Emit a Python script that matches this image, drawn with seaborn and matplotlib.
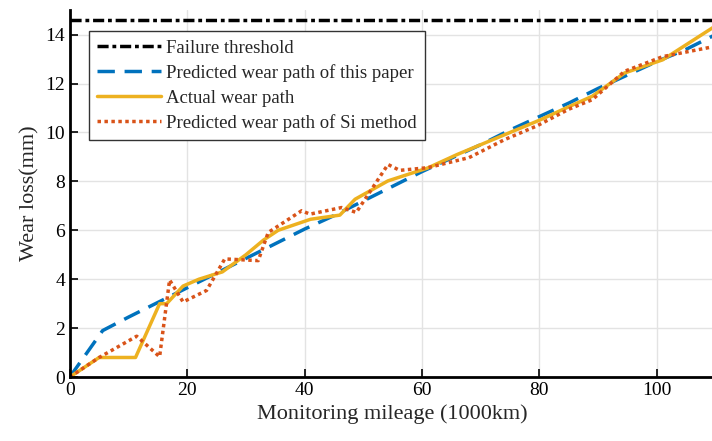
import matplotlib
matplotlib.use("Agg")
import matplotlib.pyplot as plt
import seaborn as sns
import pandas as pd

# ------------------------------------------------------------
# DATA
# ------------------------------------------------------------

failure_threshold = 14.6

actual_x = [0, 5, 11.2, 15.3, 16.5, 19.3, 22, 26, 30, 33, 35.5, 41, 46, 48.6,
            54.2, 61, 66, 70, 75, 80, 85, 89, 94.5, 101, 109.5]
actual_y = [0, 0.8, 0.8, 3.0, 3.0, 3.72, 4.0, 4.3, 5.0, 5.6, 6.0, 6.45, 6.62, 7.27,
            8.02, 8.55, 9.1, 9.5, 10.0, 10.5, 11.05, 11.48, 12.43, 12.97, 14.28]

paper_x = [0, 5.6, 10, 15, 20, 25, 30, 35, 40, 45, 50, 55, 60, 65, 70, 75, 80,
           85, 90, 95, 100, 105, 110]
paper_y = [0, 1.9, 2.45, 3.05, 3.65, 4.25, 4.85, 5.45, 6.05, 6.6, 7.2, 7.8, 8.4,
           8.95, 9.5, 10.1, 10.65, 11.2, 11.8, 12.35, 12.9, 13.4, 14.0]

si_x = [0, 5, 11.4, 15.3, 17, 19.3, 23.3, 26.4, 32.1, 33.8, 39.5, 40.9, 46.3,
        48.8, 54.2, 56.2, 61, 68, 74, 79.5, 85, 89, 94.5, 101, 109.5]
si_y = [0, 0.8, 1.67, 0.83, 3.97, 3.07, 3.54, 4.83, 4.76, 5.91, 6.8, 6.66, 6.93,
        6.73, 8.69, 8.45, 8.56, 8.97, 9.7, 10.26, 10.95, 11.34, 12.5, 13.1, 13.5]

labels = ["Failure threshold",
          "Predicted wear path of this paper",
          "Actual wear path",
          "Predicted wear path of Si method"]

# ------------------------------------------------------------
# STYLE
# ------------------------------------------------------------

sns.set_style("whitegrid")
plt.rcParams["font.family"] = ["Liberation Serif", "DejaVu Serif"]
plt.rcParams["axes.edgecolor"] = "black"
plt.rcParams["grid.color"] = "#e3e3e3"
plt.rcParams["grid.linewidth"] = 1.0

fig = plt.figure(figsize=(7.12, 4.41), dpi=100)
ax = fig.add_axes([0.098, 0.145, 0.907, 0.832])

lw = 2.5

ax.axhline(failure_threshold, color="black", lw=lw,
           linestyle=(0, (3.2, 1.1, 1.1, 1.1)), label=labels[0])

sns.lineplot(x=paper_x, y=paper_y, ax=ax, color="#0072BD", lw=lw,
             linestyle=(0, (5, 2.8)), label=labels[1])
sns.lineplot(x=actual_x, y=actual_y, ax=ax, color="#EDB120", lw=lw,
             linestyle="-", label=labels[2])
sns.lineplot(x=si_x, y=si_y, ax=ax, color="#D95319", lw=lw,
             linestyle=(0, (1, 1)), label=labels[3])

ax.set_xlim(0, 110)
ax.set_ylim(0, 15)
ax.set_xticks([0, 20, 40, 60, 80, 100])
ax.set_yticks([0, 2, 4, 6, 8, 10, 12, 14])

ax.set_xlabel("Monitoring mileage (1000km)", fontsize=16)
ax.set_ylabel("Wear loss(mm)", fontsize=16)
ax.tick_params(axis="both", labelsize=14, direction="in", length=6,
               width=1.2, colors="black", left=True, bottom=True)

for side in ["top", "right"]:
    ax.spines[side].set_visible(False)
for side in ["left", "bottom"]:
    ax.spines[side].set_linewidth(2)

leg = ax.legend(loc="upper left", bbox_to_anchor=(0.029, 0.943), fontsize=13.5,
                handlelength=3.4, frameon=True, fancybox=False,
                borderaxespad=0, borderpad=0.45, labelspacing=0.4,
                handletextpad=0.3)
leg.get_frame().set_edgecolor("#333333")
leg.get_frame().set_linewidth(1.0)
leg.get_frame().set_alpha(1)

fig.savefig("out.png", dpi=100)
